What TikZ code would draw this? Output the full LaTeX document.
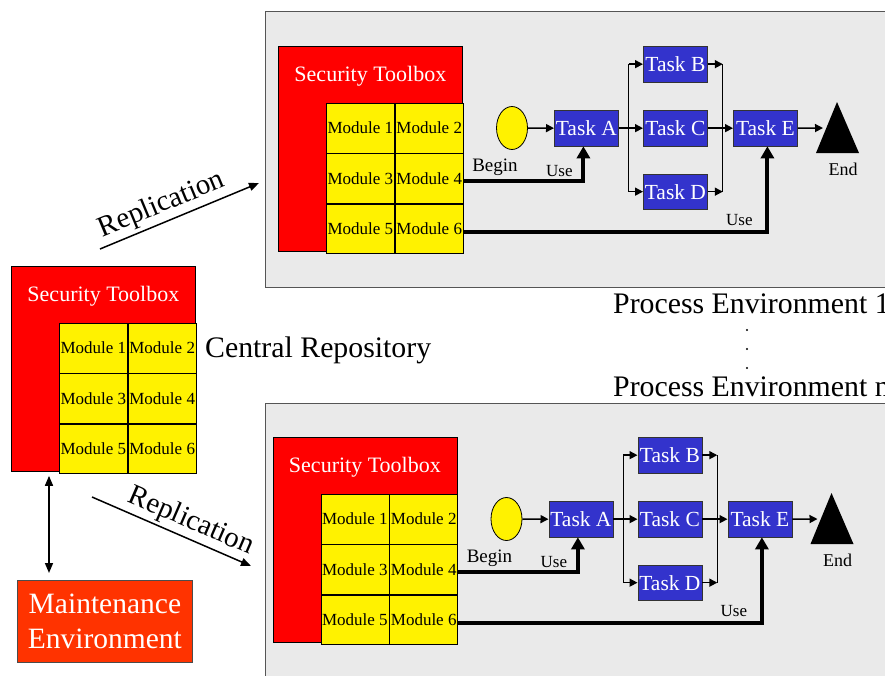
\documentclass[tikz,border=0pt]{standalone}
\usepackage{fontspec}
\setmainfont{Liberation Serif}
\usetikzlibrary{arrows.meta,calc,shapes.geometric}
\definecolor{envgray}{HTML}{EAEAEA}
\definecolor{envline}{HTML}{555555}
\definecolor{taskblue}{HTML}{3333CC}
\definecolor{maintred}{HTML}{FF3300}
\tikzset{
  fs/.style={font=\fontsize{#1}{#1}\selectfont},
  envbox/.style={draw=envline, line width=1, fill=envgray, minimum width=640, minimum height=276, anchor=north west, inner sep=0},
  tbred/.style={draw=black, line width=0.8, fill=red, minimum width=184, minimum height=205, anchor=north west, inner sep=0},
  tbtitle/.style={text=white, fs=22, inner sep=0},
  module/.style={draw=black, line width=0.8, fill=yellow, minimum width=68, minimum height=49.5, inner sep=0, fs=17, anchor=north west},
  task/.style={draw=black!80, line width=0.8, fill=taskblue, text=white, minimum width=64, minimum height=35.5, inner sep=0, fs=21.5, anchor=north west},
  beginnode/.style={ellipse, draw=black, line width=0.8, fill=yellow, minimum width=31, minimum height=43, inner sep=0},
  lbl/.style={fs=#1, inner sep=0},
  flow/.style={line width=1.5, -{Triangle[length=8, width=8]}},
  usearrow/.style={line width=4, -{Triangle[length=12, width=13]}},
  repl/.style={line width=1.5, -{Triangle[length=10, width=8]}},
  dbl/.style={line width=1.5, {Triangle[length=10, width=8]}-{Triangle[length=10, width=8]}},
  maint/.style={draw=black!70, line width=0.8, fill=maintred, text=white, minimum width=175, minimum height=82, inner sep=0, align=center, font=\fontsize{29.5}{35}\selectfont, anchor=north west},
}
\newcommand\mytoolbox[3]{%
  \node[tbred] (#1tb) at (#2,#3) {};
  \node[tbtitle] (#1tt) at ($(#1tb.north)+(0,30)$) {Security Toolbox};
  \node[module] (#1m1) at ($(#1tb.north west)+(48,57)$) {Module 1};
  \node[module] (#1m2) at (#1m1.north east) {Module 2};
  \node[module] (#1m3) at (#1m1.south west) {Module 3};
  \node[module] (#1m4) at (#1m3.north east) {Module 4};
  \node[module] (#1m5) at (#1m3.south west) {Module 5};
  \node[module] (#1m6) at (#1m5.north east) {Module 6};
}
\newcommand\myprocess[3]{%
  \mytoolbox{#1}{278+#2}{46+#3}
  \node[beginnode] (#1bg) at (512+#2,128+#3) {};
  \node[lbl=19] (#1bgl) at ($(#1bg)+(-17,39)$) {Begin};
  \node[task] (#1A) at (554+#2,110+#3) {Task A};
  \node[task] (#1B) at (643+#2,46+#3) {Task B};
  \node[task] (#1C) at (643+#2,110+#3) {Task C};
  \node[task] (#1D) at (643+#2,173.5+#3) {Task D};
  \node[task] (#1E) at (733+#2,110+#3) {Task E};
  \fill[black] (837+#2,102+#3) -- (859+#2,153+#3) -- (816+#2,153+#3) -- cycle;
  \coordinate (#1end) at (823+#2,128+#3);
  \node[lbl=18] (#1endl) at (843+#2,169+#3) {End};
  \coordinate (#1s) at ($(#1A.east)+(10,0)$);
  \coordinate (#1j) at ($(#1B.east)+(15,0)$);
  \draw[flow] (#1bg.east) -- (#1A.west);
  \draw[flow] (#1A.east) -- (#1C.west);
  \draw[line width=1] (#1s |- #1B.west) -- (#1s |- #1D.west);
  \draw[flow] (#1s |- #1B.west) -- (#1B.west);
  \draw[flow] (#1s |- #1D.west) -- (#1D.west);
  \draw[line width=1] (#1j |- #1B.east) -- (#1j |- #1D.east);
  \draw[flow] (#1B.east) -- (#1j |- #1B.east);
  \draw[flow] (#1D.east) -- (#1j |- #1D.east);
  \draw[flow] (#1C.east) -- (#1E.west);
  \draw[flow] (#1E.east) -- (#1end);
  \coordinate (#1ua) at ($(#1A.south)+(-3,0)$);
  \coordinate (#1ue) at ($(#1E.south)+(2,0)$);
  \draw[usearrow] ($(#1m4.east)+(0,3)$) -| (#1ua);
  \draw[usearrow] ($(#1m6.east)+(0,3)$) -| (#1ue);
  \node[lbl=17] (#1u1) at ($(#1A.south)+(-27,25)$) {Use};
  \node[lbl=17] (#1u2) at ($(#1E.south)+(-26,74)$) {Use};
}
\begin{document}
\begin{tikzpicture}[x=1pt, y=-1pt]
  \useasboundingbox (0,0) rectangle (885,675);
  \node[envbox] (envt) at (265,11) {};
  \node[envbox, minimum height=300] (envb) at (265,403) {};
  \myprocess{t}{0}{0}
  \myprocess{b}{-5.5}{391}
  % central repository
  \mytoolbox{c}{11}{266}
  \node[lbl=29.8, anchor=west] (crl) at (205,350) {Central Repository};
  \node[lbl=29.8, anchor=west] (pe1) at (613,304) {Process Environment 1};
  \node[lbl=29.8, anchor=west] (pen) at (613,387) {Process Environment n};
  \foreach \yy in {330,349,368} \fill (747,\yy) circle (1.1);
  \node[maint] (mt) at (17,580) {Maintenance\\Environment};
  \draw[dbl] ($(ctb.south west)+(38,4)$) -- ($(mt.north west)+(32,-7)$);
  \coordinate (r1s) at (100,249);
  \coordinate (r1e) at (259,183);
  \coordinate (r2s) at (92,497);
  \coordinate (r2e) at (251,566);
  \draw[repl] (r1s) -- node[sloped, above, pos=0.43, fs=29, inner sep=3] {Replication} (r1e);
  \draw[repl] (r2s) -- node[sloped, above, pos=0.58, fs=29, inner sep=3] {Replication} (r2e);
\end{tikzpicture}
\end{document}
